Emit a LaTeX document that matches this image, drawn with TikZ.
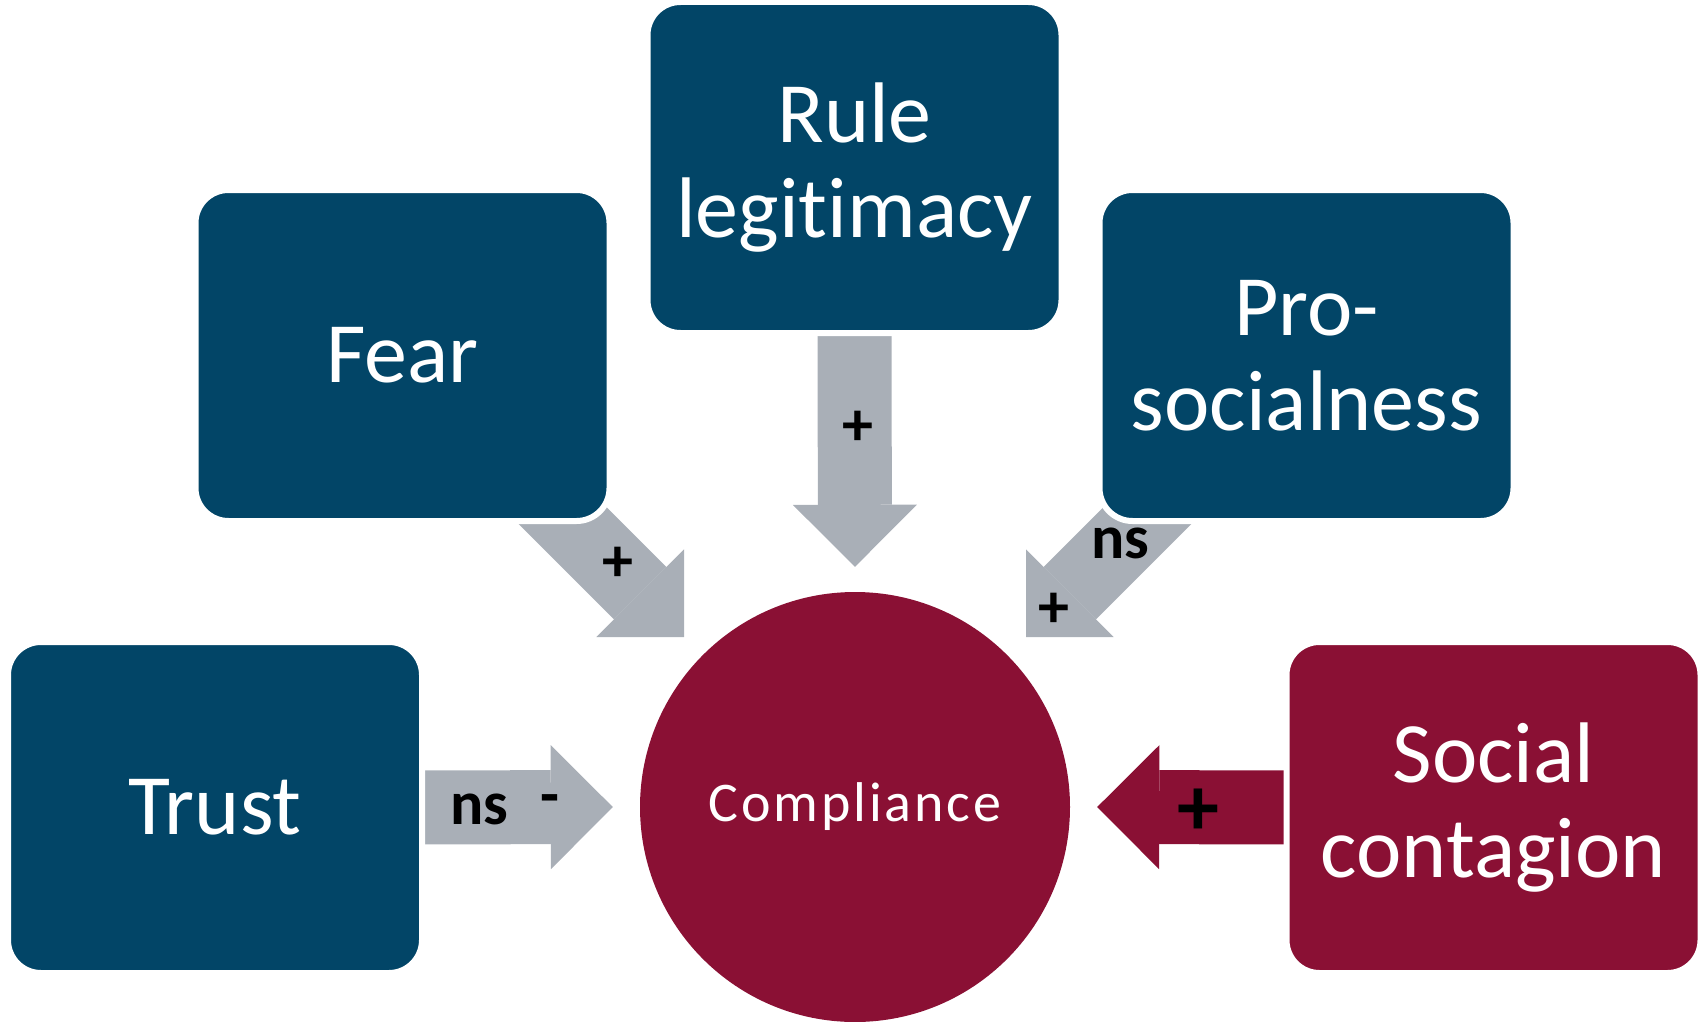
\documentclass[tikz,border=0pt]{standalone}
\usepackage{fontspec}
\setmainfont{Carlito}[Ligatures=NoCommon]
\newfontfamily\compfont{Carlito}[LetterSpace=5,Ligatures=NoCommon]
\usetikzlibrary{arrows.meta}
\pgfdeclarelayer{bg}
\pgfsetlayers{bg,main}
\definecolor{boxblue}{RGB}{2,69,103}
\definecolor{boxred}{RGB}{138,16,52}
\definecolor{arrgray}{RGB}{169,175,183}
\begin{document}
\begin{tikzpicture}[x=1pt,y=-1pt,
  box/.style={rectangle, rounded corners=33pt, draw=white, line width=6pt,
    minimum width=414pt, minimum height=331pt, inner sep=0pt, outer sep=0pt,
    text=white, align=center, font=\fontsize{86}{95}\selectfont},
  bluebox/.style={box, fill=boxblue},
  redbox/.style={box, fill=boxred},
  fat/.style={line width=74pt, draw=arrgray,
    -{Triangle[length=62pt, width=124pt, line width=0pt]}},
  sign/.style={font=\fontsize{62}{62}\selectfont\bfseries, text=black, inner sep=0pt},
  bigsign/.style={sign, font=\fontsize{84}{84}\selectfont\bfseries}]
\useasboundingbox (0,0) rectangle (1703,1022);
% nodes
\node[bluebox] (rule) at (854.5,167.5) {Rule\\legitimacy};
\node[bluebox] (fear) at (402.5,355.5) {Fear};
\node[bluebox] (pro) at (1306.5,355.5) {Pro-\\socialness};
\node[bluebox] (trust) at (215,807.5) {Trust};
\node[redbox] (social) at (1493.5,807.5) {Social\\contagion};
\node[circle, fill=boxred, minimum size=430pt, inner sep=0pt, text=white,
  font=\compfont\fontsize{56}{56}\selectfont] (comp) at (855,807) {Compliance};
% free ends of the diagonal connectors
\coordinate (fear-tail) at (530,483);
\coordinate (fear-tip) at (684,637);
\coordinate (pro-tail) at (1180,483);
\coordinate (pro-tip) at (1026,637);
% connectors
\begin{pgfonlayer}{bg}
\draw[fat] ([yshift=-3pt]rule.south) -- ([yshift=25pt]comp.north);
\draw[fat] (fear-tail) -- (fear-tip);
\draw[fat] (pro-tail) -- (pro-tip);
\draw[fat] ([xshift=-20pt]trust.east) -- ([xshift=-27pt]comp.west);
\draw[fat, draw=boxred] ([xshift=20pt]social.west) -- ([xshift=27pt]comp.east);
\end{pgfonlayer}
% labels
\node[sign] (l-rule) at (858,428) {+};
\node[sign] (l-fear) at (618,564) {+};
\node[sign] (l-pro-ns) at (1120,543) {ns};
\node[sign] (l-pro) at (1054,610) {+};
\node[sign] (l-trust-ns) at (479,809) {ns};
\node[sign] (l-trust) at (550,805) {-};
\node[bigsign] (l-social) at (1198,812) {+};
\end{tikzpicture}
\end{document}
